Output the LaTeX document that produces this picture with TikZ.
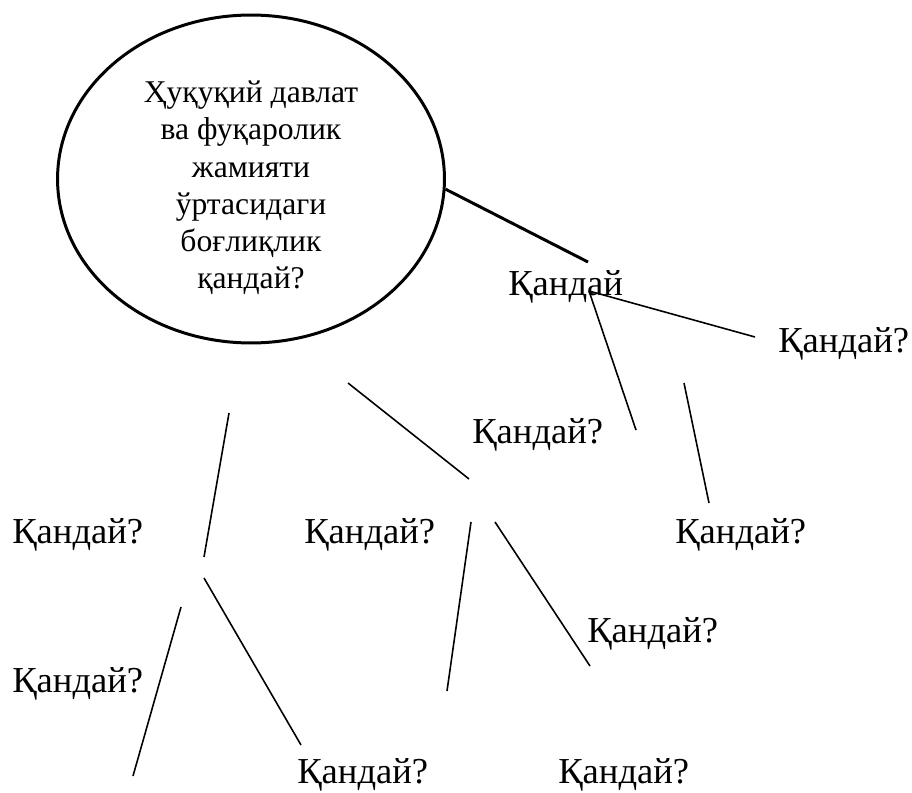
\documentclass[tikz,border=0pt]{standalone}
\usepackage{fontspec}
\setmainfont{Liberation Serif}
\usetikzlibrary{shapes.geometric}

\begin{document}
\begin{tikzpicture}[x=0.02cm,y=-0.02cm,
  lbl/.style={anchor=base west,inner sep=0pt,font=\fontsize{20.8}{24}\selectfont},
  link/.style={line width=0.9pt},
  boldlink/.style={line width=1.7pt}]
  \useasboundingbox (0,0) rectangle (912,793);
  \node[ellipse,draw,line width=1.7pt,minimum width=7.74cm,minimum height=6.56cm,inner sep=0pt] (q) at (251,179) {};
  \node[align=center,inner sep=0pt,font=\fontsize{18}{21.2}\selectfont] (qt) at (251,188) {Ҳуқуқий давлат\\ва фуқаролик\\жамияти\\ўртасидаги\\боғлиқлик\\қандай?};
  \node[lbl] (k0) at (508,296) {Қандай};
  \node[lbl] (k1) at (778,353) {Қандай?};
  \node[lbl] (k2) at (472,443) {Қандай?};
  \node[lbl] (k3) at (12,543) {Қандай?};
  \node[lbl] (k4) at (304,543) {Қандай?};
  \node[lbl] (k5) at (675,543) {Қандай?};
  \node[lbl] (k6) at (587,642) {Қандай?};
  \node[lbl] (k7) at (12,692) {Қандай?};
  \node[lbl] (k8) at (297,783) {Қандай?};
  \node[lbl] (k9) at (558,783) {Қандай?};
  % line ends
  \coordinate (t0) at (588,262); \coordinate (j0) at (589,291);
  \coordinate (a1) at (755,337); \coordinate (a2) at (636,430);
  \coordinate (b1) at (684,383); \coordinate (b2) at (709,503);
  \coordinate (c1) at (348,383); \coordinate (c2) at (469,479);
  \coordinate (d1) at (229,413); \coordinate (d2) at (204,557);
  \coordinate (e1) at (204,578); \coordinate (e2) at (301,745);
  \coordinate (f1) at (181,607); \coordinate (f2) at (133,776);
  \coordinate (g1) at (471,522); \coordinate (g2) at (447,691);
  \coordinate (h1) at (495,522); \coordinate (h2) at (590,666);
  \draw[boldlink] (q.-3)--(t0);
  \draw[link] (j0)--(a1); \draw[link] (j0)--(a2);
  \draw[link] (b1)--(b2); \draw[link] (c1)--(c2);
  \draw[link] (d1)--(d2); \draw[link] (e1)--(e2); \draw[link] (f1)--(f2);
  \draw[link] (g1)--(g2); \draw[link] (h1)--(h2);
\end{tikzpicture}
\end{document}
